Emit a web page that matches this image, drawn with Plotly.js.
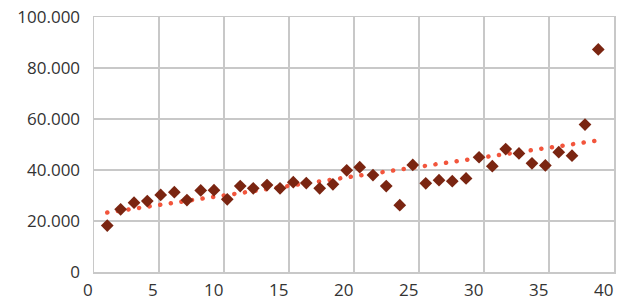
<!DOCTYPE html>
<html>
<head>
<meta charset="utf-8">
<script src="https://cdn.plot.ly/plotly-3.0.1.min.js"></script>
<style>
html,body{margin:0;padding:0;background:#fff;}
#chart{width:623px;height:300px;}
</style>
</head>
<body>
<div id="chart"></div>
<script>
var xValues = [1.02, 2.05, 3.08, 4.10, 5.13, 6.18, 7.15, 8.21, 9.23, 10.25,
               11.25, 12.25, 13.31, 14.31, 15.33, 16.33, 17.36, 18.38, 19.44, 20.44,
               21.46, 22.48, 23.52, 24.52, 25.52, 26.54, 27.56, 28.62, 29.62, 30.64,
               31.67, 32.69, 33.69, 34.72, 35.75, 36.77, 37.77, 38.79];
var yValues = [18200, 24600, 27200, 27800, 30200, 31300, 28200, 32000, 32100, 28500,
               33700, 32800, 34100, 32800, 35200, 34900, 32800, 34400, 39900, 41100,
               38000, 33700, 26200, 42000, 34800, 36000, 35600, 36700, 45000, 41500,
               48200, 46500, 42600, 41800, 47000, 45600, 57800, 87300];
var trendX = [1.02, 38.79];
var trendY = [23300, 51600];
var xTicks = [0, 5, 10, 15, 20, 25, 30, 35, 40];
var xTickLabels = ['0', '5', '10', '15', '20', '25', '30', '35', '40'];
var yTicks = [0, 20000, 40000, 60000, 80000, 100000];

var traces = [
  {
    x: trendX, y: trendY, type: 'scatter', mode: 'lines',
    line: {color: '#f2553c', width: 4.5, dash: '0.1px,10.6px'},
    hoverinfo: 'skip', showlegend: false
  },
  {
    x: xValues, y: yValues, type: 'scatter', mode: 'markers',
    marker: {symbol: 'diamond', size: 9.8, color: '#7a2511', line: {width: 0}},
    showlegend: false
  }
];

// x tick labels, right-aligned to their gridlines as in the reference
var annotations = xTicks.map(function(v, i){
  return {
    x: v, xref: 'x', y: 0, yref: 'paper',
    text: xTickLabels[i], showarrow: false,
    xanchor: 'right', yanchor: 'top', xshift: 1, yshift: -4,
    font: {family: '"Open Sans", "DejaVu Sans", sans-serif', size: 17, color: '#333333'}
  };
});

var layout = {
  width: 623, height: 300,
  margin: {l: 94, r: 9, t: 17, b: 28, pad: 0},
  paper_bgcolor: '#ffffff', plot_bgcolor: '#ffffff',
  separators: ',.',
  font: {family: '"Open Sans", "DejaVu Sans", sans-serif', size: 17, color: '#333333'},
  annotations: annotations,
  xaxis: {
    range: [0, 40], tickmode: 'array', tickvals: xTicks,
    showticklabels: false,
    showgrid: true, gridcolor: '#c8c8c8', gridwidth: 1.5,
    zeroline: false, showline: true, linecolor: '#c8c8c8', linewidth: 1.5, mirror: true,
    ticks: ''
  },
  yaxis: {
    range: [0, 100000], tickmode: 'array', tickvals: yTicks,
    tickformat: ',d',
    showgrid: true, gridcolor: '#c8c8c8', gridwidth: 1.5,
    zeroline: false, showline: true, linecolor: '#c8c8c8', linewidth: 1.5, mirror: true,
    ticks: 'outside', ticklen: 9, tickcolor: 'rgba(0,0,0,0)',
    tickfont: {size: 17, color: '#333333'}
  }
};

Plotly.newPlot('chart', traces, layout, {staticPlot: true, displayModeBar: false}).then(function(){
  document.querySelectorAll('.scatterlayer .js-line').forEach(function(p){
    p.style.strokeLinecap = 'round';
  });
});
</script>
</body>
</html>
